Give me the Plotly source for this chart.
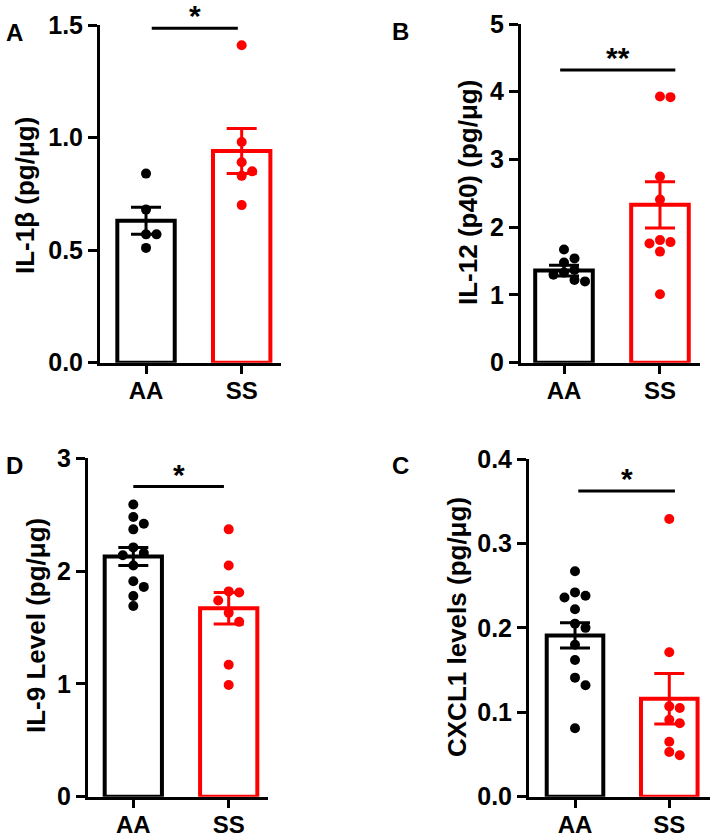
import numpy as np
import plotly.graph_objects as go

# ---------------- data ----------------
groups = ["AA", "SS"]

# Panel A: IL-1beta
A_title = "IL-1β (pg/μg)"
A_aa = [0.84, 0.68, 0.57, 0.57, 0.51]
A_ss = [1.41, 0.98, 0.89, 0.85, 0.83, 0.70]
A_mean = [0.63, 0.94]
A_sem = [0.06, 0.10]
A_ticks = [0.0, 0.5, 1.0, 1.5]
A_sig = "*"

# Panel B: IL-12 (p40)
B_title = "IL-12 (p40) (pg/μg)"
B_aa = [1.67, 1.54, 1.48, 1.37, 1.33, 1.30, 1.22, 1.20]
B_ss = [3.93, 3.92, 2.75, 2.41, 1.81, 1.78, 1.76, 1.64, 1.01]
B_mean = [1.36, 2.33]
B_sem = [0.08, 0.34]
B_ticks = [0, 1, 2, 3, 4, 5]
B_sig = "**"

# Panel D: IL-9
D_title = "IL-9 Level (pg/μg)"
D_aa = [2.59, 2.48, 2.42, 2.37, 2.21, 2.16, 2.14, 2.05, 1.91, 1.86, 1.78, 1.69]
D_ss = [2.37, 2.05, 1.82, 1.81, 1.74, 1.63, 1.55, 1.17, 0.99]
D_mean = [2.13, 1.67]
D_sem = [0.08, 0.14]
D_ticks = [0, 1, 2, 3]
D_sig = "*"

# Panel C: CXCL1
C_title = "CXCL1 levels (pg/μg)"
C_aa = [0.267, 0.242, 0.238, 0.236, 0.222, 0.205, 0.200, 0.180, 0.162, 0.141, 0.132, 0.081]
C_ss = [0.329, 0.171, 0.107, 0.105, 0.091, 0.087, 0.065, 0.053, 0.049]
C_mean = [0.191, 0.116]
C_sem = [0.015, 0.030]
C_ticks = [0.0, 0.1, 0.2, 0.3, 0.4]
C_sig = "*"

# ---------------- layout / style ----------------
W, H = 714, 839
FONT = "Liberation Sans"
BLACK = "#000000"
RED = "#FF0000"
DOT = 10

panels = [
    dict(letter="A", title=A_title, aa=A_aa, ss=A_ss, mean=A_mean, sem=A_sem, ticks=A_ticks,
         fmt="{:.1f}", sig=A_sig, px=(100, 281), py=(25, 362.7), xr=(-0.481, 1.411),
         sigy=1.486, sigx=(0.06, 0.96), letpos=(14, 33), titpos=(25, 196)),
    dict(letter="B", title=B_title, aa=B_aa, ss=B_ss, mean=B_mean, sem=B_sem, ticks=B_ticks,
         fmt="{:d}", sig=B_sig, px=(521, 700), py=(24, 362.7), xr=(-0.448, 1.417),
         sigy=4.32, sigx=(-0.04, 1.16), letpos=(400, 32), titpos=(468, 193)),
    dict(letter="D", title=D_title, aa=D_aa, ss=D_ss, mean=D_mean, sem=D_sem, ticks=D_ticks,
         fmt="{:d}", sig=D_sig, px=(88, 268), py=(458.3, 796.7), xr=(-0.475, 1.412),
         sigy=2.75, sigx=(0.0, 0.95), letpos=(14, 465), titpos=(36, 626)),
    dict(letter="C", title=C_title, aa=C_aa, ss=C_ss, mean=C_mean, sem=C_sem, ticks=C_ticks,
         fmt="{:.1f}", sig=C_sig, px=(529, 710), py=(459, 796.7), xr=(-0.488, 1.432),
         sigy=0.362, sigx=(0.035, 1.06), letpos=(400, 465), titpos=(457, 627)),
]


def beeswarm(values, ppx, ppy, d):
    """Deterministic swarm offsets (in x data units) so dots don't overlap."""
    order = np.argsort(values)[::-1]
    placed = []
    offs = np.zeros(len(values))
    cands = [0]
    for k in range(1, 8):
        cands += [k, -k]
    for i in order:
        yp = values[i] * ppy
        for c in cands:
            xp = c * d
            ok = all((xp - a) ** 2 + (yp - b) ** 2 >= (0.95 * d) ** 2 for a, b in placed)
            if ok:
                placed.append((xp, yp))
                offs[i] = xp / ppx
                break
    return offs


fig = go.Figure()
layout = dict(width=W, height=H, margin=dict(l=0, r=0, t=0, b=0, autoexpand=False),
              template="none",
              paper_bgcolor="white", plot_bgcolor="white", showlegend=False,
              shapes=[], annotations=[])

for n, p in enumerate(panels, start=1):
    xa = "x" if n == 1 else f"x{n}"
    ya = "y" if n == 1 else f"y{n}"
    xk = "xaxis" if n == 1 else f"xaxis{n}"
    yk = "yaxis" if n == 1 else f"yaxis{n}"
    x0, x1 = p["px"]
    yt, yb = p["py"]
    ymax = p["ticks"][-1]
    xr0, xr1 = p["xr"]
    ppx = (x1 - x0) / (xr1 - xr0)
    ppy = (yb - yt) / ymax
    xdom = [x0 / W, x1 / W]
    ydom = [1 - yb / H, 1 - yt / H]

    def to_px(xv):
        return xdom[0] + (xv - xr0) / (xr1 - xr0) * (xdom[1] - xdom[0])

    def to_py(yv):
        return ydom[0] + yv / ymax * (ydom[1] - ydom[0])

    # bars
    fig.add_trace(go.Bar(x=[0, 1], y=p["mean"], width=0.6, xaxis=xa, yaxis=ya,
                         marker=dict(color="white", line=dict(color=[BLACK, RED], width=4)),
                         hoverinfo="skip"))
    # points
    for gi, (vals, col) in enumerate([(p["aa"], BLACK), (p["ss"], RED)]):
        v = np.array(vals, dtype=float)
        off = beeswarm(v, ppx, ppy, DOT + 0.5)
        fig.add_trace(go.Scatter(x=gi + off, y=v, mode="markers", xaxis=xa, yaxis=ya,
                                 marker=dict(size=DOT, color=col, line=dict(width=0)),
                                 cliponaxis=False, hoverinfo="skip"))
    # error bars (mean ± SEM)
    for gi, col in enumerate([BLACK, RED]):
        fig.add_trace(go.Scatter(x=[gi], y=[p["mean"][gi]], mode="markers", xaxis=xa, yaxis=ya,
                                 marker=dict(size=1, color="rgba(0,0,0,0)"),
                                 error_y=dict(type="data", array=[p["sem"][gi]], visible=True,
                                              color=col, thickness=3, width=15),
                                 hoverinfo="skip"))

    common = dict(ticks="outside", tickwidth=3, tickcolor=BLACK, showline=True,
                  linewidth=3, linecolor=BLACK, showgrid=False, zeroline=False,
                  fixedrange=True, automargin=False)
    layout[xk] = dict(domain=xdom, range=[xr0, xr1], anchor=ya, ticklen=8,
                      ticklabelstandoff=-4,
                      tickfont=dict(family=FONT, size=24, color=BLACK, weight="bold"),
                      tickvals=[0, 1], ticktext=groups, **common)
    layout[yk] = dict(domain=ydom, range=[0, ymax], anchor=xa, ticklen=9,
                      tickfont=dict(family=FONT, size=25, color=BLACK, weight="bold"),
                      tickvals=p["ticks"], ticktext=[p["fmt"].format(t) for t in p["ticks"]],
                      **common)

    # significance line + stars (paper coordinates so nothing is clipped)
    sx0, sx1 = p["sigx"]
    sy = to_py(p["sigy"])
    layout["shapes"].append(dict(type="line", xref="paper", yref="paper",
                                 x0=to_px(sx0), x1=to_px(sx1), y0=sy, y1=sy,
                                 line=dict(color=BLACK, width=3)))
    layout["annotations"].append(dict(text=p["sig"], xref="paper", yref="paper",
                                      x=to_px((sx0 + sx1) / 2), y=sy,
                                      yanchor="bottom", xanchor="center", showarrow=False,
                                      yshift=-6,
                                      font=dict(family=FONT, size=30, color=BLACK, weight="bold")))
    # panel letter
    lx, ly = p["letpos"]
    layout["annotations"].append(dict(text=p["letter"], xref="paper", yref="paper",
                                      x=lx / W, y=1 - ly / H, xanchor="center", yanchor="middle",
                                      showarrow=False,
                                      font=dict(family=FONT, size=24, color=BLACK, weight="bold")))
    # y-axis title
    tx, ty = p["titpos"]
    layout["annotations"].append(dict(text=p["title"], xref="paper", yref="paper",
                                      x=tx / W, y=1 - ty / H, xanchor="center", yanchor="middle",
                                      textangle=-90, showarrow=False,
                                      font=dict(family=FONT, size=26, color=BLACK, weight="bold")))

fig.update_layout(**layout)
fig.write_html("out.html", config={"displayModeBar": False},
               post_script="document.body.style.margin='0px';document.body.style.overflow='hidden';")
